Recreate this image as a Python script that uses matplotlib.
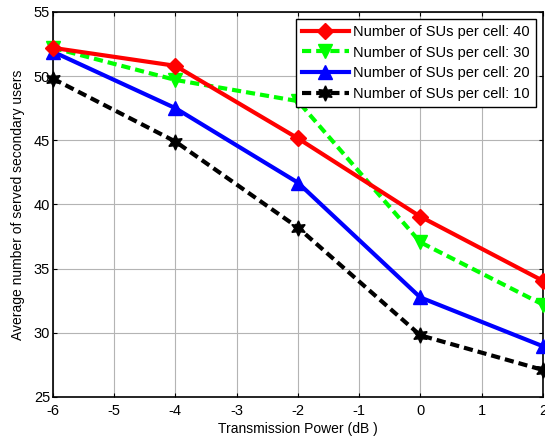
import matplotlib
matplotlib.use("Agg")
import matplotlib.pyplot as plt

power_db = [-6, -4, -2, 0, 2]
su40 = [52.2, 50.8, 45.15, 39.05, 34.05]
su30 = [52.2, 49.7, 48.05, 37.05, 32.2]
su20 = [51.9, 47.5, 41.7, 32.75, 28.95]
su10 = [49.8, 44.9, 38.2, 29.8, 27.1]
labels = ["Number of SUs per cell: 40", "Number of SUs per cell: 30",
          "Number of SUs per cell: 20", "Number of SUs per cell: 10"]

plt.rcParams['font.family'] = ['Liberation Sans', 'DejaVu Sans']
plt.rcParams['axes.unicode_minus'] = False

fig = plt.figure(figsize=(5.45, 4.41), dpi=100)
ax = fig.add_axes([0.097, 0.1, 0.899, 0.873])

ax.plot(power_db, su40, color='#ff0000', lw=3, ls='-', marker='D', ms=8, label=labels[0], clip_on=False, zorder=5)
ax.plot(power_db, su30, color='#00ff00', lw=3, ls=(0, (2.2, 1.2)), marker='v', ms=10, label=labels[1], clip_on=False, zorder=4)
ax.plot(power_db, su20, color='#0000ff', lw=3, ls='-', marker='^', ms=10, label=labels[2], clip_on=False, zorder=3)
ax.plot(power_db, su10, color='#000000', lw=3, ls=(0, (2.2, 1.2)), marker=(6, 1, 0), ms=11, label=labels[3], clip_on=False, zorder=2)

ax.set_xlim(-6, 2)
ax.set_ylim(25, 55)
ax.set_xticks(range(-6, 3))
ax.set_yticks(range(25, 56, 5))
ax.grid(True, color='#b4b4b4', lw=0.8, ls='-')
ax.set_axisbelow(True)
ax.tick_params(direction='in', length=3, labelsize=10.5, top=True, right=True)
ax.tick_params(axis='x', pad=5)
ax.tick_params(axis='y', pad=2)
for s in ax.spines.values():
    s.set_linewidth(1.2)

ax.set_xlabel("Transmission Power (dB )", fontsize=10, labelpad=3)
ax.set_ylabel("Average number of served secondary users", fontsize=10, labelpad=6)

leg = ax.legend(loc='upper right', fontsize=10.5, handlelength=3.2, borderpad=0.4,
                labelspacing=0.45, handletextpad=0.3, borderaxespad=0.5, fancybox=False,
                framealpha=1, edgecolor='black')
leg.get_frame().set_linewidth(1.0)

fig.savefig("out.png", dpi=100)
